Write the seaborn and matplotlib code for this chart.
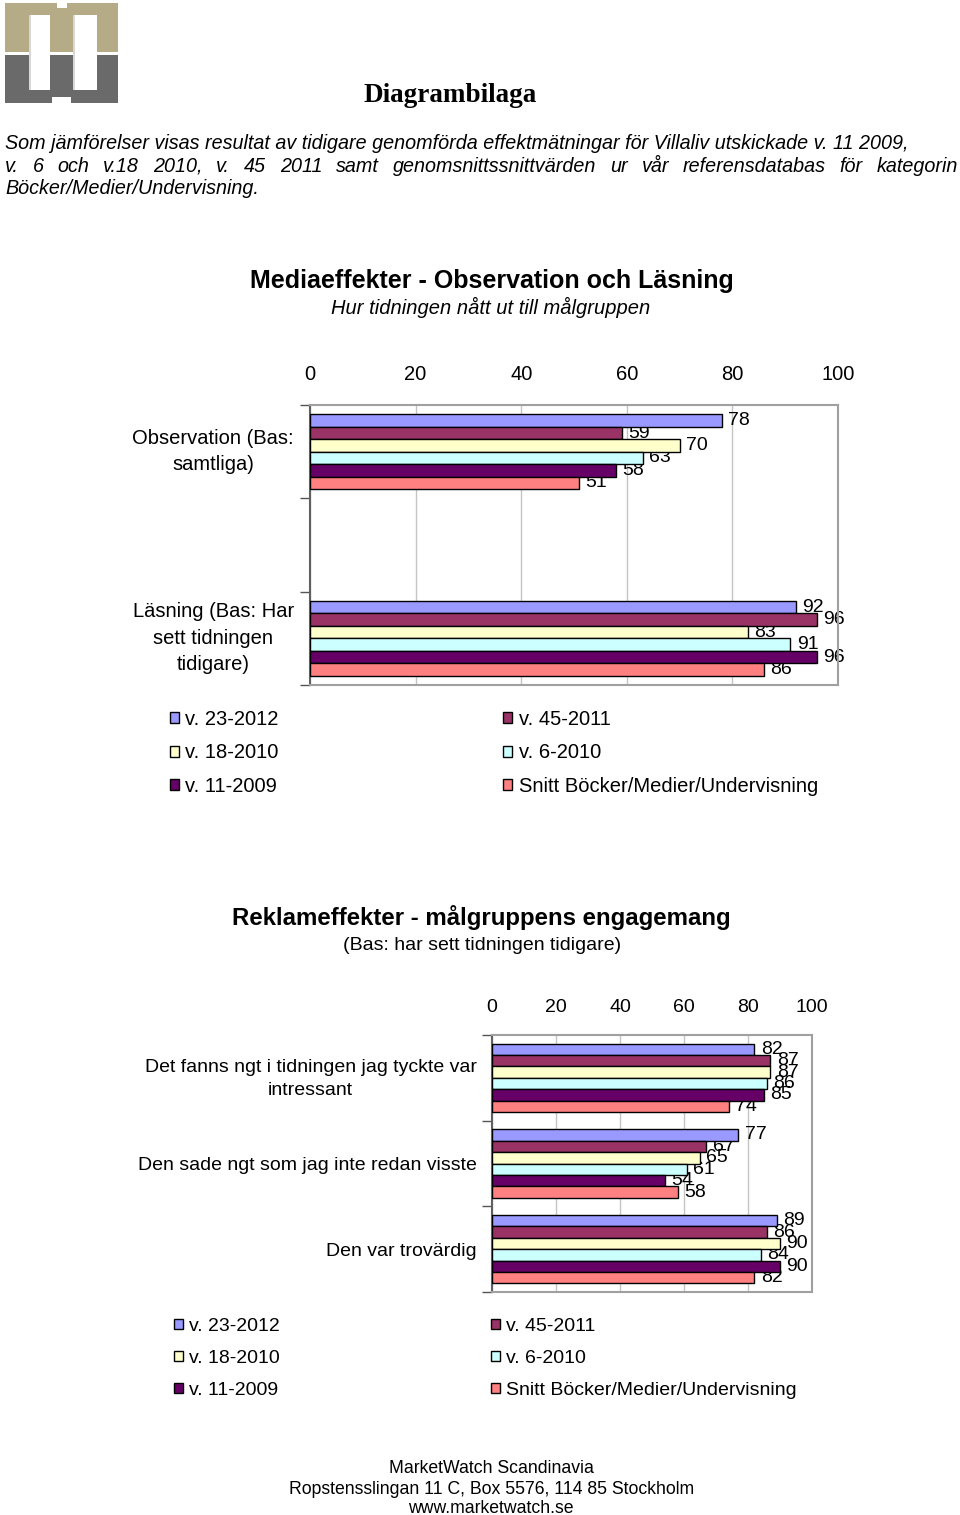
import numpy as np
import pandas as pd
import matplotlib
matplotlib.use("Agg")
import matplotlib.pyplot as plt
import seaborn as sns
from matplotlib.patches import Rectangle
from matplotlib.transforms import ScaledTranslation

# ---------------- data ----------------
series = ["v. 23-2012", "v. 45-2011", "v. 18-2010", "v. 6-2010", "v. 11-2009",
          "Snitt Böcker/Medier/Undervisning"]
colors = ["#9999FF", "#993366", "#FFFFCC", "#CCFFFF", "#660066", "#FF8080"]

c1_categories = ["Observation (Bas:\nsamtliga)", "Läsning (Bas: Har\nsett tidningen\ntidigare)"]
c1_observation = [78, 59, 70, 63, 58, 51]
c1_lasning = [92, 96, 83, 91, 96, 86]

c2_categories = ["Det fanns ngt i tidningen jag tyckte var\nintressant",
                 "Den sade ngt som jag inte redan visste",
                 "Den var trovärdig"]
c2_intressant = [82, 87, 87, 86, 85, 74]
c2_visste = [77, 67, 65, 61, 54, 58]
c2_trovardig = [89, 86, 90, 84, 90, 82]

x_ticks = [0, 20, 40, 60, 80, 100]

# ---------------- style ----------------
sns.set_style("white")
plt.rcParams["font.family"] = ["Liberation Sans", "DejaVu Sans"]
plt.rcParams["text.color"] = "black"
plt.rcParams["axes.labelcolor"] = "black"
plt.rcParams["xtick.color"] = "black"
plt.rcParams["ytick.color"] = "black"
plt.rcParams["legend.labelcolor"] = "black"

W, H = 960, 1515
fig = plt.figure(figsize=(W / 100, H / 100), dpi=100)


def ax_px(left, top, right, bottom):
    return fig.add_axes([left / W, 1 - bottom / H, (right - left) / W, (bottom - top) / H])


def txt(x, y, s, **kw):
    return fig.text(x / W, 1 - y / H, s, **kw)


# ---------------- logo ----------------
lg = ax_px(0, 0, 125, 108)
lg.set_xlim(0, 125)
lg.set_ylim(108, 0)
lg.axis("off")
khaki, grey = "#B5AC87", "#6A6A6A"
lg.add_patch(Rectangle((5, 3), 113, 49, fc=khaki, ec="none"))
lg.add_patch(Rectangle((5, 55), 113, 48, fc=grey, ec="none"))
for x0, w in [(29, 21), (73, 24)]:
    lg.add_patch(Rectangle((x0, 15), w, 75, fc="white", ec="none"))
    lg.add_patch(Rectangle((x0, 15), 2, 75, fc="#d8d8d8", ec="none"))
lg.add_patch(Rectangle((57, 2), 10, 6, fc="white", ec="none"))
lg.add_patch(Rectangle((52, 97), 19, 7, fc="white", ec="none"))

# ---------------- header text ----------------
txt(450, 102, "Diagrambilaga", family=["Liberation Serif", "DejaVu Serif"],
    fontsize=19.5, fontweight="bold", ha="center", va="baseline")

para_fs = 14.2
txt(5, 149, "Som jämförelser visas resultat av tidigare genomförda effektmätningar för "
            "Villaliv utskickade v. 11 2009,", fontsize=para_fs, style="italic", va="baseline")
line2 = "v. 6 och v.18 2010, v. 45 2011 samt genomsnittssnittvärden ur vår referensdatabas för kategorin"
renderer = fig.canvas.get_renderer()
words = line2.split()
wtexts = [txt(0, 172, w, fontsize=para_fs, style="italic", va="baseline") for w in words]
widths = [t.get_window_extent(renderer).width for t in wtexts]
gap = (958 - 5 - sum(widths)) / (len(words) - 1)
xx = 5
for t, w in zip(wtexts, widths):
    t.set_x(xx / W)
    xx += w + gap
txt(5, 194, "Böcker/Medier/Undervisning.", fontsize=para_fs, style="italic", va="baseline")


# ---------------- chart helper ----------------
def draw_chart(ax, cats, order, values, fs, lab_fs, xpad, ypad, dy):
    rows = []
    for cat, vals in zip(cats, values):
        for s, v in zip(series, vals):
            rows.append({"category": cat, "series": s, "value": v})
    df = pd.DataFrame(rows)
    sns.barplot(data=df, x="value", y="category", hue="series", order=order,
                hue_order=series, palette=colors, saturation=1, orient="h",
                edgecolor="black", linewidth=1, errorbar=None, width=0.8,
                legend=False, ax=ax, zorder=3)
    for c in ax.containers:
        ax.bar_label(c, fmt="%.0f", padding=4.5, fontsize=lab_fs, zorder=2, color="black")
    ax.set_xlim(0, 100)
    ax.set_xticks(x_ticks)
    ax.xaxis.set_ticks_position("top")
    ax.set_xlabel("")
    ax.set_ylabel("")
    ax.tick_params(axis="x", length=0, pad=xpad, labelsize=fs, top=True, bottom=False,
                   labeltop=True, labelbottom=False)
    n = len(order)
    ax.set_yticks(np.arange(-0.5, n, 1.0), minor=True)
    ax.tick_params(axis="y", which="minor", left=True, length=7, width=1, color="#555555")
    ax.tick_params(axis="y", which="major", left=True, length=0, pad=ypad, labelsize=fs)
    for lbl in ax.get_yticklabels():
        lbl.set_ha("right")
        lbl.set_multialignment("center")
        lbl.set_linespacing(1.5)
        if "\n" in lbl.get_text():
            lbl.set_transform(lbl.get_transform()
                              + ScaledTranslation(0, dy / 100, fig.dpi_scale_trans))
    ax.grid(axis="x", color="#c4c4c4", linewidth=1)
    ax.grid(axis="y", visible=False)
    ax.set_axisbelow(True)
    for side in ["top", "right", "bottom"]:
        ax.spines[side].set_color("#a0a0a0")
        ax.spines[side].set_linewidth(1.5)
    ax.spines["left"].set_color("#606060")
    ax.spines["left"].set_linewidth(1.5)


def draw_legend(ax, x, y, fs, colspace, lspace):
    idx = [0, 2, 4, 1, 3, 5]
    fig.legend(handles=[ax.containers[i] for i in idx], labels=[series[i] for i in idx],
               ncol=2, loc="upper left", bbox_to_anchor=(x / W, 1 - y / H),
               bbox_transform=fig.transFigure, frameon=False, fontsize=fs,
               handlelength=0.46, handleheight=0.46, handletextpad=0.3,
               columnspacing=colspace, labelspacing=lspace, borderpad=0, borderaxespad=0)


# ---------------- chart 1 ----------------
txt(492, 288, "Mediaeffekter - Observation och Läsning", fontsize=18, fontweight="bold",
    ha="center", va="baseline")
txt(491, 314, "Hur tidningen nått ut till målgruppen", fontsize=14.5, style="italic",
    ha="center", va="baseline")
ax1 = ax_px(310, 405, 838, 685)
order1 = [c1_categories[0], " ", c1_categories[1]]
draw_chart(ax1, c1_categories, order1, [c1_observation, c1_lasning], 14.5, 14, 15, 11.5, 6)
draw_legend(ax1, 170, 710, 14.5, 11.15, 0.72)

# ---------------- chart 2 ----------------
txt(481, 925, "Reklameffekter - målgruppens engagemang", fontsize=17.3, fontweight="bold",
    ha="center", va="baseline")
txt(482, 950, "(Bas: har sett tidningen tidigare)", fontsize=14, ha="center", va="baseline")
ax2 = ax_px(492, 1035, 812, 1292)
draw_chart(ax2, c2_categories, c2_categories, [c2_intressant, c2_visste, c2_trovardig],
           14, 14, 14, 11, 4)
draw_legend(ax2, 174, 1318, 14, 10.9, 0.77)

# ---------------- footer ----------------
txt(491, 1473, "MarketWatch Scandinavia", fontsize=12.7, ha="center", va="baseline")
txt(492, 1494, "Ropstensslingan 11 C, Box 5576, 114 85 Stockholm", fontsize=12.7,
    ha="center", va="baseline")
txt(491, 1513, "www.marketwatch.se", fontsize=12.7, ha="center", va="baseline")

fig.savefig("out.png", dpi=100)
